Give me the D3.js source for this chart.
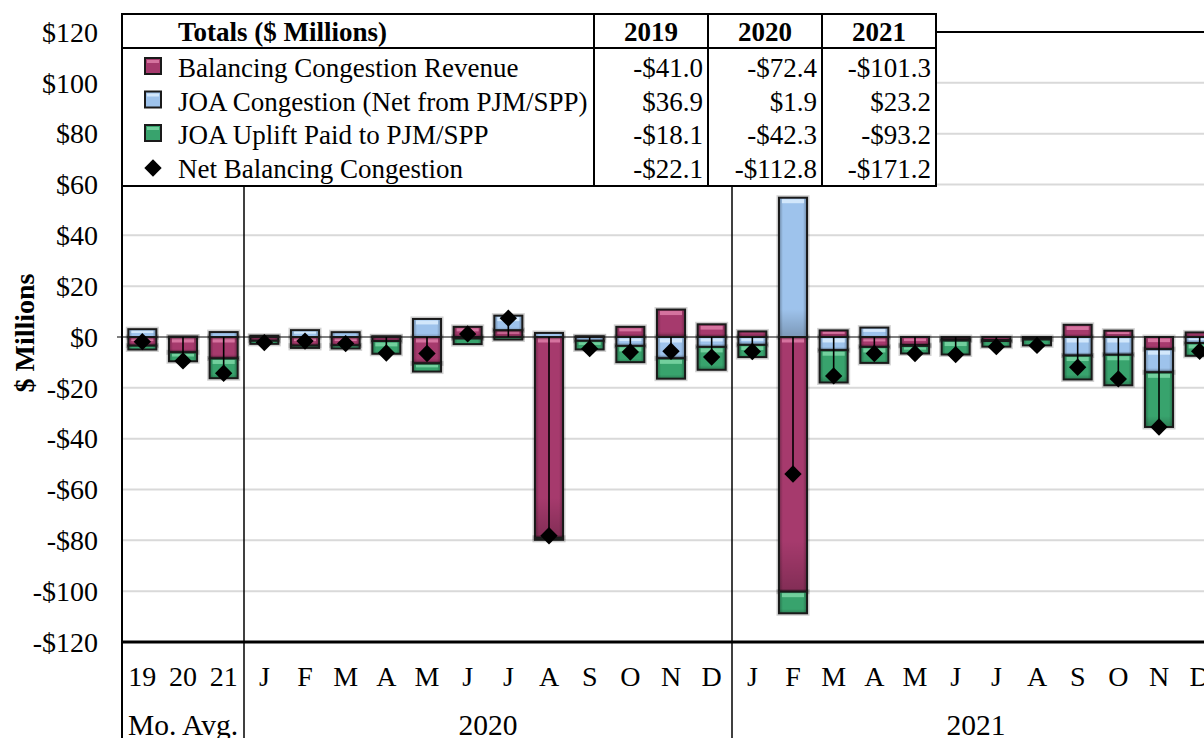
<!DOCTYPE html>
<html><head><meta charset="utf-8">
<script src="https://cdn.jsdelivr.net/npm/d3@7"></script>
<style>
html,body{margin:0;padding:0;background:#fff;overflow:hidden}
svg{display:block;font-family:"Liberation Serif","Times New Roman",serif}
</style></head><body>
<svg id="chart" width="1204" height="738"></svg>
<script>
// ---- data ($ millions) ----
const avgLabels = ["19", "20", "21"];
const months = ["J", "F", "M", "A", "M", "J", "J", "A", "S", "O", "N", "D"];
const groupLabels = ["Mo. Avg.", "2020", "2021"];
const years = ["2019", "2020", "2021"];
const seriesNames = ["Balancing Congestion Revenue", "JOA Congestion (Net from PJM/SPP)",
                     "JOA Uplift Paid to PJM/SPP", "Net Balancing Congestion"];

// annual totals
const totBalancing = [-41.0, -72.4, -101.3];
const totJoaCong   = [36.9, 1.9, 23.2];
const totJoaUplift = [-18.1, -42.3, -93.2];
const totNet       = [-22.1, -112.8, -171.2];

// monthly values
const bal2020 = [-1.5, -3.4, -3.3, -1.6, -10.4, 4.0, 2.7, -79.0, 0.3, 4.0, 10.8, 5.0];
const joa2020 = [0.5, 2.7, 1.9, 0.3, 7.1, -0.6, 5.7, 1.6, -1.5, -3.5, -8.4, -3.9];
const upl2020 = [-1.2, -0.9, -1.2, -5.0, -3.2, -2.2, -1.0, -0.8, -3.4, -6.4, -8.0, -9.0];
const bal2021 = [2.2, -100.2, 2.6, -3.9, -3.2, -1.0, -1.3, -0.8, 4.8, 2.5, -4.8, 1.8];
const joa2021 = [-3.1, 54.8, -5.2, 3.7, -0.3, -0.4, -0.3, -0.2, -7.3, -7.0, -9.1, -2.4];
const upl2021 = [-4.8, -8.5, -12.7, -6.3, -3.0, -5.5, -2.2, -2.3, -9.4, -12.0, -21.5, -5.0];

const yTicks = [120, 100, 80, 60, 40, 20, 0, -20, -40, -60, -80, -100, -120];

// ---- rows: monthly averages then each month ----
const rows = [];
avgLabels.forEach((lab, i) => rows.push({
  key: "avg" + i, label: lab, group: 0,
  bal: totBalancing[i] / 12, joa: totJoaCong[i] / 12, upl: totJoaUplift[i] / 12,
  net: totNet[i] / 12
}));
[[bal2020, joa2020, upl2020], [bal2021, joa2021, upl2021]].forEach(([b, j, u], g) => {
  months.forEach((m, i) => rows.push({
    key: "m" + g + "-" + i, label: m, group: g + 1,
    bal: b[i], joa: j[i], upl: u[i], net: b[i] + j[i] + u[i]
  }));
});

const svg = d3.select("#chart");
const plotL = 122, plotR = 1220, plotT = 32, plotB = 642;

const x = d3.scaleBand().domain(rows.map(d => d.key))
  .range([plotL, plotR]).paddingInner(0.31).paddingOuter(0.155);
const step = x.step();
const y = d3.scaleLinear().domain([-120, 120]).range([plotB, plotT]);

const colors = {bal: "#a63a6d", joa: "#9ec3ec", upl: "#38a36d"};
const lights = {bal: "#d5739f", joa: "#d2e7fb", upl: "#72cf9d"};

// gradients for the bevelled bar look
const defs = svg.append("defs");
const side = defs.append("linearGradient").attr("id", "sideShade")
  .attr("x1", 0).attr("x2", 1).attr("y1", 0).attr("y2", 0);
[[0, 0.32], [0.14, 0], [0.86, 0], [1, 0.32]].forEach(([o, a]) =>
  side.append("stop").attr("offset", o).attr("stop-color", "#000").attr("stop-opacity", a));
const bot = defs.append("linearGradient").attr("id", "botShade")
  .attr("x1", 0).attr("x2", 0).attr("y1", 0).attr("y2", 1);
[[0, 0], [0.8, 0], [1, 0.22]].forEach(([o, a]) =>
  bot.append("stop").attr("offset", o).attr("stop-color", "#000").attr("stop-opacity", a));

// grid
svg.append("g").selectAll("line").data(yTicks.filter(v => v !== 0 && Math.abs(v) !== 120))
  .join("line")
  .attr("x1", plotL).attr("x2", plotR).attr("y1", d => y(d)).attr("y2", d => y(d))
  .attr("stroke", "#d9d9d9").attr("stroke-width", 2);

// top border of the plot area
svg.append("line").attr("x1", plotL).attr("x2", plotR)
  .attr("y1", y(120)).attr("y2", y(120)).attr("stroke", "#000").attr("stroke-width", 2);

// zero line
svg.append("line").attr("x1", plotL - 5).attr("x2", plotR)
  .attr("y1", y(0)).attr("y2", y(0)).attr("stroke", "#000").attr("stroke-width", 1.2);

// stacked bars
const stack = d3.stack().keys(["bal", "joa", "upl"]).offset(d3.stackOffsetDiverging)(rows);
const bw = x.bandwidth();
const barG = svg.append("g");
stack.forEach(layer => {
  const k = layer.key;
  layer.forEach(seg => {
    const v0 = seg[0], v1 = seg[1];
    if (v0 === v1) return;
    const x0 = x(seg.data.key);
    const yt = y(Math.max(v0, v1)), yb = y(Math.min(v0, v1));
    const h = yb - yt;
    const g = barG.append("g");
    g.append("rect").attr("x", x0 - 1.5).attr("y", yt - 1.5).attr("width", bw + 3).attr("height", h + 3)
      .attr("fill", "none").attr("stroke", "#000").attr("stroke-opacity", 0.18).attr("stroke-width", 2);
    g.append("rect").attr("x", x0).attr("y", yt).attr("width", bw).attr("height", h)
      .attr("fill", colors[k]);
    g.append("rect").attr("x", x0).attr("y", yt).attr("width", bw).attr("height", h)
      .attr("fill", "url(#sideShade)");
    if (h > 6) {
      g.append("rect").attr("x", x0).attr("y", yt).attr("width", bw).attr("height", h)
        .attr("fill", "url(#botShade)");
      g.append("rect").attr("x", x0 + 3).attr("y", yt + 1.5).attr("width", bw - 6)
        .attr("height", Math.min(4, h * 0.3)).attr("fill", lights[k]);
    }
    g.append("rect").attr("x", x0).attr("y", yt).attr("width", bw).attr("height", h)
      .attr("fill", "none").attr("stroke", "#1a1a1a").attr("stroke-width", 2);
  });
});

// drop lines from zero to the net value
const cx = d => x(d.key) + bw / 2;
svg.append("g").selectAll("line").data(rows).join("line")
  .attr("x1", cx).attr("x2", cx).attr("y1", y(0)).attr("y2", d => y(d.net))
  .attr("stroke", "#000").attr("stroke-width", 1.6);

// net markers
const diamond = d3.symbol(d3.symbolSquare, 150);
svg.append("g").selectAll("path").data(rows).join("path")
  .attr("d", diamond)
  .attr("transform", d => `translate(${cx(d)},${y(d.net)}) rotate(45)`)
  .attr("fill", "#000");

// bottom axis line
svg.append("line").attr("x1", plotL).attr("x2", plotR)
  .attr("y1", plotB).attr("y2", plotB).attr("stroke", "#000").attr("stroke-width", 3);

// left axis and group separators
svg.append("line").attr("x1", plotL).attr("x2", plotL).attr("y1", 14).attr("y2", 738)
  .attr("stroke", "#000").attr("stroke-width", 2);
const groupSizes = [3, 12, 12];
let acc = 0;
const groupSpans = groupSizes.map(n => { const s = acc; acc += n; return [s, acc]; });
groupSpans.slice(1).forEach(([s]) => {
  const xs = x(rows[s].key) - step * x.paddingInner() / 2;
  svg.append("line").attr("x1", xs).attr("x2", xs).attr("y1", 186).attr("y2", 738)
    .attr("stroke", "#000").attr("stroke-width", 1.5);
});

// y axis labels
const yAxis = d3.axisLeft(y).tickValues(yTicks).tickSize(0).tickPadding(0)
  .tickFormat(v => (v < 0 ? "-$" : "$") + Math.abs(v));
const ya = svg.append("g").attr("transform", "translate(98,0)").call(yAxis);
ya.select(".domain").remove();
ya.selectAll("text").attr("font-size", 28).attr("font-family", "Liberation Serif")
  .attr("fill", "#000").attr("dy", "0.33em");

svg.append("text").attr("transform", "translate(34,333) rotate(-90)")
  .attr("text-anchor", "middle").attr("font-size", 28).attr("font-weight", "bold")
  .text("$ Millions");

// category labels
const xAxis = d3.axisBottom(x).tickSize(0).tickPadding(0).tickFormat(k => rows.find(r => r.key === k).label);
const xa = svg.append("g").attr("transform", `translate(0,686)`).call(xAxis);
xa.select(".domain").remove();
xa.selectAll("text").attr("font-size", 28).attr("font-family", "Liberation Serif")
  .attr("fill", "#000").attr("dy", 0);

// group labels
groupSpans.forEach(([s, e], i) => {
  const a = x(rows[s].key) - step * x.paddingInner() / 2;
  const b = x(rows[e - 1].key) + bw + step * x.paddingInner() / 2;
  svg.append("text").attr("x", (a + b) / 2).attr("y", 735).attr("text-anchor", "middle")
    .attr("font-size", 29.5).text(groupLabels[i]);
});

// ---- totals table with legend ----
const tb = svg.append("g");
const tL = 122, tR = 936, tT = 14, tB = 186, hdrB = 48;
const colEdges = [594, 708, 822, 936];
tb.append("rect").attr("x", tL).attr("y", tT).attr("width", tR - tL).attr("height", tB - tT)
  .attr("fill", "#fff").attr("stroke", "#000").attr("stroke-width", 2);
tb.append("line").attr("x1", tL).attr("x2", tR).attr("y1", hdrB).attr("y2", hdrB)
  .attr("stroke", "#000").attr("stroke-width", 2);
colEdges.slice(0, 3).forEach(cxp => tb.append("line").attr("x1", cxp).attr("x2", cxp)
  .attr("y1", tT).attr("y2", tB).attr("stroke", "#000").attr("stroke-width", 2));

tb.append("text").attr("x", 178).attr("y", 41).attr("font-size", 27).attr("font-weight", "bold")
  .text("Totals ($ Millions)");
years.forEach((yr, i) => tb.append("text")
  .attr("x", (colEdges[i] + colEdges[i + 1]) / 2).attr("y", 41).attr("text-anchor", "middle")
  .attr("font-size", 27).attr("font-weight", "bold").text(yr));

const tableVals = [totBalancing, totJoaCong, totJoaUplift, totNet];
const rowCenters = [68, 101.5, 135, 169];
const fmt = v => (v < 0 ? "-$" : "$") + Math.abs(v).toFixed(1);
const swatchKeys = ["bal", "joa", "upl"];
seriesNames.forEach((name, r) => {
  const cy = rowCenters[r];
  if (r < 3) {
    const k = swatchKeys[r];
    tb.append("rect").attr("x", 145).attr("y", cy - 10).attr("width", 16).attr("height", 16)
      .attr("fill", colors[k]).attr("stroke", "#1a1a1a").attr("stroke-width", 2);
    tb.append("rect").attr("x", 147).attr("y", cy - 8).attr("width", 12).attr("height", 3)
      .attr("fill", lights[k]);
  } else {
    tb.append("path").attr("d", diamond)
      .attr("transform", `translate(153,${cy - 1}) rotate(45)`).attr("fill", "#000");
  }
  tb.append("text").attr("x", 178).attr("y", cy + 9).attr("font-size", 27).text(name);
  tableVals[r].forEach((v, c) => tb.append("text")
    .attr("x", colEdges[c + 1] - 5).attr("y", cy + 9).attr("text-anchor", "end")
    .attr("font-size", 27).text(fmt(v)));
});
</script>
</body></html>
